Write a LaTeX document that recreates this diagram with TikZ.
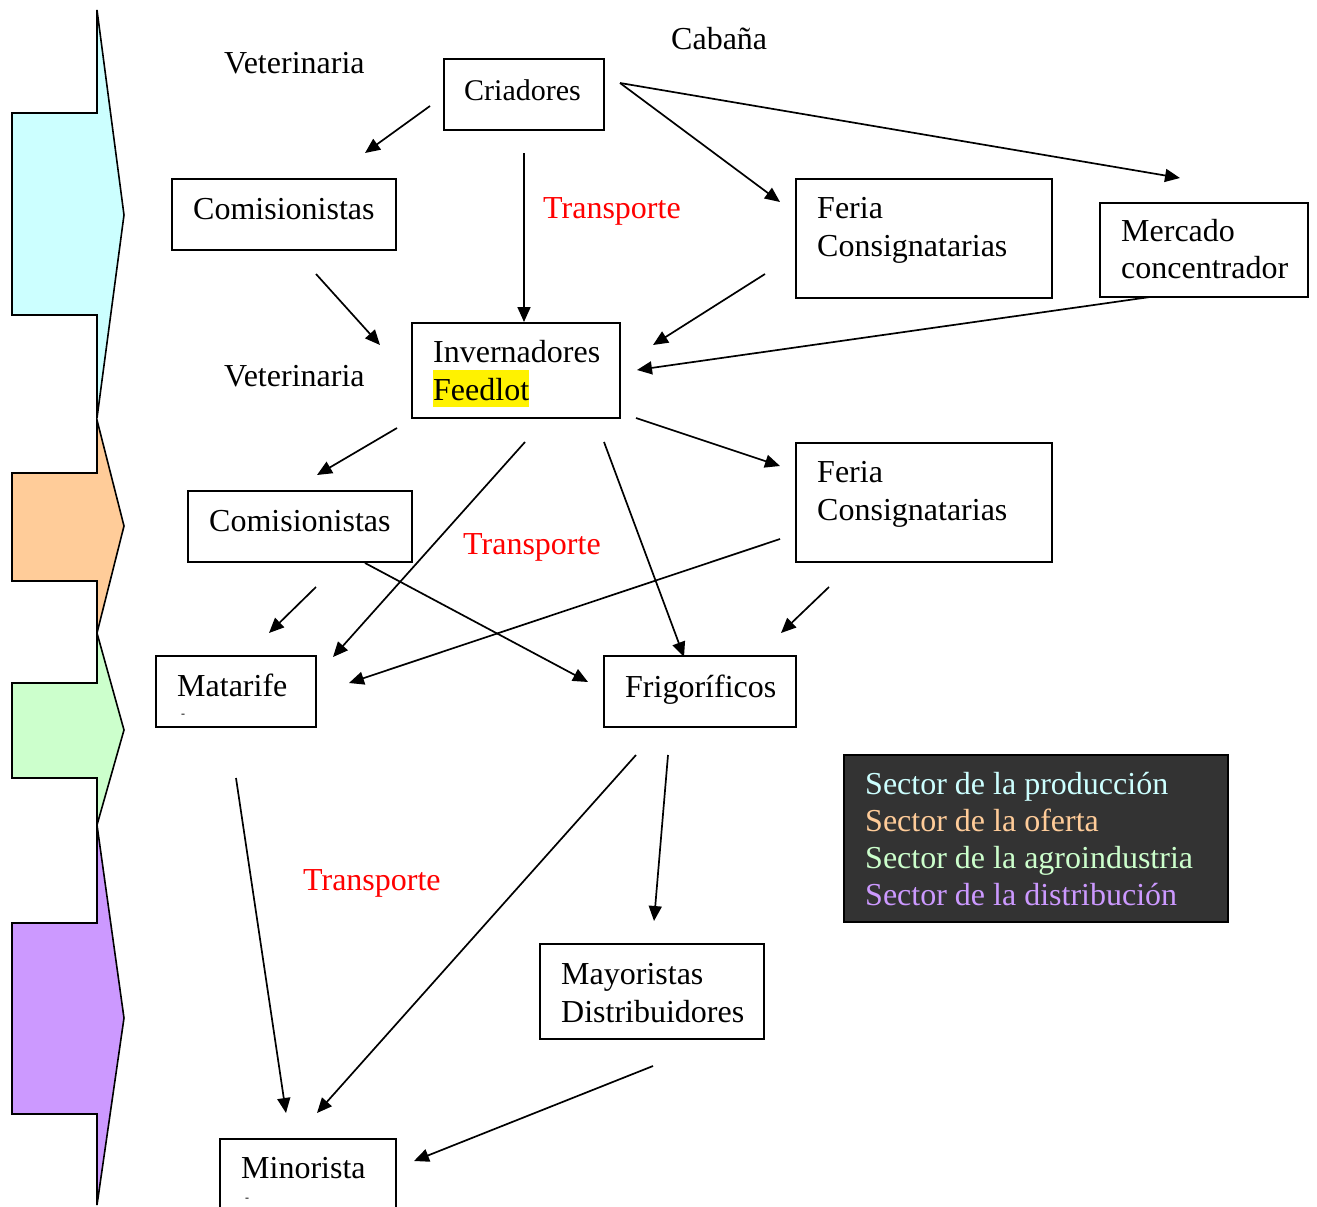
\documentclass[tikz,border=0pt]{standalone}
\usepackage{fontspec}
\setmainfont{Liberation Serif}
\usetikzlibrary{arrows.meta}
\definecolor{cprod}{HTML}{CCFFFF}
\definecolor{cofer}{HTML}{FFCC99}
\definecolor{cagro}{HTML}{CCFFCC}
\definecolor{cdist}{HTML}{CC99FF}
\definecolor{legbg}{HTML}{333333}
\begin{document}
\begin{tikzpicture}[x=1pt,y=-1pt,
  box/.style={draw,line width=1.6pt,inner sep=0pt},
  lbl/.style={anchor=base west,inner sep=0pt,font=\fontsize{32}{38}\selectfont},
  red lbl/.style={lbl,text=red},
  conn/.style={line width=1.7pt,-{Triangle[length=15pt,width=13pt]}},
  chev/.style={draw,line width=1.6pt,line join=miter}]
\useasboundingbox (0,0) rectangle (1317,1207);

% sector chevrons
\path[chev,fill=cprod] (97,10) -- (97,113) -- (12,113) -- (12,315) -- (97,315) -- (97,418) -- (124,215) -- cycle;
\path[chev,fill=cofer] (97,420) -- (97,473) -- (12,473) -- (12,581) -- (97,581) -- (97,633) -- (124,526) -- cycle;
\path[chev,fill=cagro] (97,633) -- (97,683) -- (12,683) -- (12,778) -- (97,778) -- (97,825) -- (124,730) -- cycle;
\path[chev,fill=cdist] (97,825) -- (97,923) -- (12,923) -- (12,1114) -- (97,1114) -- (97,1205) -- (124,1018) -- cycle;

% boxes
\node[box,minimum width=160,minimum height=71] (crio) at (524,94.5) {};
\node[box,minimum width=224,minimum height=71] (com1) at (284,214.5) {};
\node[box,minimum width=256,minimum height=119] (fer1) at (924,238.5) {};
\node[box,minimum width=208,minimum height=94] (merc) at (1204,250) {};
\node[box,minimum width=208,minimum height=95] (inv) at (516,370.5) {};
\node[box,minimum width=224,minimum height=71] (com2) at (300,526.5) {};
\node[box,minimum width=256,minimum height=119] (fer2) at (924,502.5) {};
\node[box,minimum width=160,minimum height=71] (mata) at (236,691.5) {};
\node[box,minimum width=192,minimum height=71] (frig) at (700,691.5) {};
\node[box,minimum width=224,minimum height=95] (mayo) at (652,991.5) {};
\path[draw,line width=1.6pt] (220,1210) -- (220,1139) -- (396,1139) -- (396,1210);
\coordinate (mino) at (308,1139);
\node[box,fill=legbg,minimum width=384,minimum height=167] (leg) at (1036,838.5) {};

% box texts
\node[lbl,font=\fontsize{30}{36}\selectfont] (criot) at (464,100) {Criadores};
\node[lbl] (com1t) at (193,219) {Comisionistas};
\node[lbl] (fer1t) at (817,218) {Feria};
\node[lbl] (fer1u) at (817,256) {Consignatarias};
\node[lbl] (merct) at (1121,241) {Mercado};
\node[lbl] (mercu) at (1121,278) {concentrador};
\node[lbl] (invt) at (433,362) {Invernadores};
\node[lbl,fill=yellow,text height=30pt,text depth=7pt] (invu) at (433,400) {Feedlot};
\node[lbl] (com2t) at (209,531) {Comisionistas};
\node[lbl] (fer2t) at (817,482) {Feria};
\node[lbl] (fer2u) at (817,520) {Consignatarias};
\node[lbl] (matat) at (177,696) {Matarife};
\node[anchor=center,inner sep=0pt,font=\fontsize{12}{14}\selectfont] (matad) at (183,716) {-};
\node[lbl] (frigt) at (625,697) {Frigoríficos};
\node[lbl] (mayot) at (561,984) {Mayoristas};
\node[lbl] (mayou) at (561,1022) {Distribuidores};
\node[lbl] (minot) at (241,1178) {Minorista};
\node[anchor=center,inner sep=0pt,font=\fontsize{12}{14}\selectfont] (minod) at (247,1200) {-};

% legend
\node[lbl,text=cprod] (lg1) at (865,794) {Sector de la producción};
\node[lbl,text=cofer] (lg2) at (865,831) {Sector de la oferta};
\node[lbl,text=cagro] (lg3) at (865,868) {Sector de la agroindustria};
\node[lbl,text=cdist] (lg4) at (865,905) {Sector de la distribución};

% free labels
\node[lbl] (vet1) at (224,74) {Veterinaria};
\node[lbl] (vet2) at (224,386) {Veterinaria};
\node[lbl] (cab) at (671,50) {Cabaña};
\node[red lbl] (tr1) at (543,218) {Transporte};
\node[red lbl] (tr2) at (463,554) {Transporte};
\node[red lbl] (tr3) at (303,890) {Transporte};

% connector end points
\coordinate (a1s) at (430,106);  \coordinate (a1e) at (365,153);
\coordinate (a2s) at (524,153);  \coordinate (a2e) at (524,322);
\coordinate (a3s) at (620,83);   \coordinate (a3e) at (780,202);
\coordinate (a4e) at (1180,178);
\coordinate (a5s) at (316,274);  \coordinate (a5e) at (380,345);
\coordinate (a6s) at (765,274);  \coordinate (a6e) at (653,345);
\coordinate (a7s) at (1150,297); \coordinate (a7e) at (637,370);
\coordinate (a8s) at (397,428);  \coordinate (a8e) at (317,475);
\coordinate (a9s) at (525,442);  \coordinate (a9e) at (333,657);
\coordinate (a10s) at (604,442); \coordinate (a10e) at (684,657);
\coordinate (a11s) at (636,418); \coordinate (a11e) at (780,466);
\coordinate (a12s) at (316,587); \coordinate (a12e) at (269,633);
\coordinate (a13s) at (365,563); \coordinate (a13e) at (588,682);
\coordinate (a14s) at (780,539); \coordinate (a14e) at (349,683);
\coordinate (a15s) at (829,587); \coordinate (a15e) at (781,633);
\coordinate (a16s) at (236,778); \coordinate (a16e) at (286,1113);
\coordinate (a17s) at (636,755); \coordinate (a17e) at (317,1113);
\coordinate (a18s) at (668,755); \coordinate (a18e) at (654,921);
\coordinate (a19s) at (653,1066);\coordinate (a19e) at (414,1161);

\draw[conn] (a1s) -- (a1e);
\draw[conn] (a2s) -- (a2e);
\draw[conn] (a3s) -- (a3e);
\draw[conn] (a3s) -- (a4e);
\draw[conn] (a5s) -- (a5e);
\draw[conn] (a6s) -- (a6e);
\draw[conn] (a7s) -- (a7e);
\draw[conn] (a8s) -- (a8e);
\draw[conn] (a9s) -- (a9e);
\draw[conn] (a10s) -- (a10e);
\draw[conn] (a11s) -- (a11e);
\draw[conn] (a12s) -- (a12e);
\draw[conn] (a13s) -- (a13e);
\draw[conn] (a14s) -- (a14e);
\draw[conn] (a15s) -- (a15e);
\draw[conn] (a16s) -- (a16e);
\draw[conn] (a17s) -- (a17e);
\draw[conn] (a18s) -- (a18e);
\draw[conn] (a19s) -- (a19e);
\end{tikzpicture}
\end{document}
